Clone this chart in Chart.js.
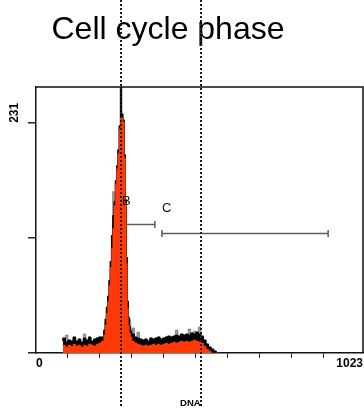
<!DOCTYPE html>
<html>
<head>
<meta charset="utf-8">
<style>
  html, body { margin: 0; padding: 0; background: #fff; }
  #wrap { width: 364px; height: 408px; }
</style>
<script src="https://cdn.jsdelivr.net/npm/chart.js@4.4.1/dist/chart.umd.min.js"></script>
</head>
<body>
<div id="wrap"><canvas id="histChart" width="364" height="408"></canvas></div>
<script>
// DNA channel (bin start) and event counts
const channels = [84, 92, 100, 108, 116, 124, 132, 140, 148, 156, 164, 172, 180, 188, 196, 204,
  212, 216, 220, 224, 228, 232, 236, 240, 244, 248, 252, 256, 260, 264, 268, 272, 276, 280, 283, 286, 289, 292, 296, 300,
  308, 316, 324, 332, 340, 348, 356, 364, 372, 380, 388, 396, 404, 412, 420, 428, 436, 444, 452, 460,
  468, 476, 484, 492, 500, 508, 516, 524, 532, 540, 548, 556, 564, 572];
const redCounts = [7, 8, 6, 8, 7, 9, 7, 8, 6, 8, 7, 9, 8, 7, 9, 10,
  12, 18, 28, 40, 52, 68, 86, 105, 125, 148, 170, 185, 200, 225, 236, 236, 232, 196, 150, 90, 45, 28, 20, 16,
  12, 10, 9, 8, 7, 8, 7, 8, 9, 8, 9, 8, 9, 10, 9, 10, 11, 10, 11, 12,
  11, 12, 11, 12, 13, 12, 11, 10, 7, 4, 2, 0, 0, 0];
const blackCounts = [12, 15, 11, 13, 12, 16, 12, 14, 11, 15, 13, 16, 12, 14, 15, 16,
  16, 23, 34, 46, 57, 73, 92, 118, 138, 152, 173, 188, 204, 228, 300, 240, 234, 199, 154, 96, 52, 36, 27, 22,
  19, 16, 15, 14, 13, 14, 12, 15, 14, 15, 16, 14, 15, 16, 17, 16, 17, 18, 17, 19,
  18, 19, 18, 20, 19, 21, 19, 17, 13, 9, 6, 4, 2, 0];
const grayCounts = [12, 15, 18, 13, 12, 16, 12, 14, 11, 19, 13, 16, 12, 14, 15, 16,
  16, 23, 34, 46, 57, 73, 92, 118, 162, 160, 173, 188, 204, 228, 300, 240, 234, 199, 154, 96, 52, 36, 34, 22,
  25, 16, 21, 14, 13, 14, 12, 15, 14, 15, 16, 14, 15, 16, 17, 16, 17, 23, 17, 19,
  18, 19, 24, 20, 22, 21, 26, 17, 13, 9, 6, 4, 2, 0];

const xTickValues = [0, 100, 200, 300, 400, 500, 600, 700, 800, 900, 1023];
const xTickLabels = ['0', '', '', '', '', '', '', '', '', '', '1023'];
const yTickValues = [0, 115.5, 231];
const yTickLabels = ['', '', '231'];

const gateNames = ['B', 'C'];
const gateStart = [247, 394];
const gateEnd = [372, 914];
const gateLevel = [129, 120];
const gateLabelAt = [269, 394];
const gateLabelLevel = [152, 145];

const phaseMarkers = [265, 515];
const titleText = 'Cell cycle phase';
const xTitle = 'DNA';

const FONT = '"Liberation Sans", Arial, sans-serif';

function toPoints(counts) {
  return channels.map((c, i) => ({ x: c, y: counts[i] }));
}

const overlay = {
  id: 'overlay',
  beforeDatasetsDraw(chart) {
    const { ctx, scales: { x, y } } = chart;
    ctx.save();
    ctx.strokeStyle = '#5c5c5c';
    ctx.lineWidth = 1.5;
    gateNames.forEach((g, i) => {
      const x0 = x.getPixelForValue(gateStart[i]);
      const x1 = x.getPixelForValue(gateEnd[i]);
      const yy = Math.round(y.getPixelForValue(gateLevel[i])) + 0.5;
      ctx.beginPath();
      ctx.moveTo(x0, yy); ctx.lineTo(x1, yy);
      ctx.moveTo(x0, yy - 3.5); ctx.lineTo(x0, yy + 3.5);
      ctx.moveTo(x1, yy - 3.5); ctx.lineTo(x1, yy + 3.5);
      ctx.stroke();
    });
    ctx.restore();
  },
  afterDatasetsDraw(chart) {
    const { ctx, scales: { x, y } } = chart;
    ctx.save();
    ctx.fillStyle = '#111';
    ctx.font = '13px ' + FONT;
    ctx.textAlign = 'left';
    ctx.textBaseline = 'middle';
    gateNames.forEach((g, i) => {
      ctx.fillText(g, x.getPixelForValue(gateLabelAt[i]), y.getPixelForValue(gateLabelLevel[i]));
    });
    ctx.restore();
  },
  afterDraw(chart) {
    const { ctx, chartArea: a, scales: { x, y } } = chart;
    ctx.save();

    // top and right frame
    ctx.strokeStyle = '#111';
    ctx.lineWidth = 1.5;
    ctx.beginPath();
    ctx.moveTo(a.left, a.top);
    ctx.lineTo(a.right, a.top);
    ctx.lineTo(a.right, a.bottom);
    ctx.stroke();

    // title
    ctx.fillStyle = '#000';
    ctx.font = '32px ' + FONT;
    ctx.textAlign = 'center';
    ctx.textBaseline = 'alphabetic';
    ctx.fillText(titleText, 168, 39);

    // y tick label, rotated
    yTickValues.forEach((v, i) => {
      if (!yTickLabels[i]) return;
      ctx.save();
      ctx.translate(15, y.getPixelForValue(v));
      ctx.rotate(-Math.PI / 2);
      ctx.font = 'bold 12px ' + FONT;
      ctx.textAlign = 'left';
      ctx.textBaseline = 'middle';
      ctx.fillText(yTickLabels[i], 0, 0);
      ctx.restore();
    });

    // x axis title
    ctx.font = 'bold 9.5px ' + FONT;
    ctx.textAlign = 'center';
    ctx.textBaseline = 'middle';
    ctx.fillText(xTitle, x.getPixelForValue(483), 403);

    // dotted phase markers across the whole picture
    ctx.strokeStyle = '#1e1e1e';
    ctx.lineWidth = 2;
    ctx.setLineDash([2, 2]);
    phaseMarkers.forEach(v => {
      const px = Math.round(x.getPixelForValue(v));
      ctx.beginPath();
      ctx.moveTo(px, 0);
      ctx.lineTo(px, chart.height);
      ctx.stroke();
    });
    ctx.restore();
  }
};

new Chart(document.getElementById('histChart'), {
  type: 'line',
  data: {
    datasets: [
      {
        label: 'PI',
        data: toPoints(redCounts),
        stepped: 'after',
        borderColor: '#ff3a08',
        borderWidth: 0.5,
        backgroundColor: '#ff3a08',
        fill: 'origin',
        pointRadius: 0,
        order: 1
      },
      {
        label: 'outline',
        data: toPoints(blackCounts),
        stepped: 'after',
        borderColor: '#000',
        borderWidth: 1,
        backgroundColor: '#000',
        fill: 'origin',
        pointRadius: 0,
        order: 2
      },
      {
        label: 'spikes',
        data: toPoints(grayCounts),
        stepped: 'after',
        borderColor: '#8c8c8c',
        borderWidth: 1,
        backgroundColor: '#9a9a9a',
        fill: 'origin',
        pointRadius: 0,
        order: 3
      }
    ]
  },
  options: {
    responsive: false,
    animation: false,
    devicePixelRatio: 1,
    layout: { padding: { top: 87, right: 1, left: 0, bottom: 0 } },
    plugins: {
      legend: { display: false },
      tooltip: { enabled: false }
    },
    scales: {
      x: {
        type: 'linear',
        min: 0,
        max: 1023,
        afterBuildTicks: s => { s.ticks = xTickValues.map(v => ({ value: v })); },
        afterFit: s => { s.height = 55; },
        ticks: {
          autoSkip: false,
          maxRotation: 0,
          align: 'inner',
          padding: -2,
          color: '#000',
          font: { family: FONT, size: 12, weight: 'bold' },
          callback: (v) => xTickLabels[xTickValues.indexOf(v)] || ''
        },
        grid: {
          drawOnChartArea: false,
          tickLength: 5,
          lineWidth: 1,
          color: c => (c.tick && (c.tick.value === 0 || c.tick.value === 1023)) ? 'rgba(0,0,0,0)' : '#222'
        },
        border: { display: true, color: '#111', width: 1.5 }
      },
      y: {
        min: 0,
        max: 267,
        afterBuildTicks: s => { s.ticks = yTickValues.map(v => ({ value: v })); },
        afterFit: s => { s.width = 36; },
        ticks: { display: false },
        grid: {
          drawOnChartArea: false,
          tickLength: 8,
          lineWidth: 1.5,
          color: '#222'
        },
        border: { display: true, color: '#111', width: 1.5 }
      }
    }
  },
  plugins: [overlay]
});
</script>
</body>
</html>
